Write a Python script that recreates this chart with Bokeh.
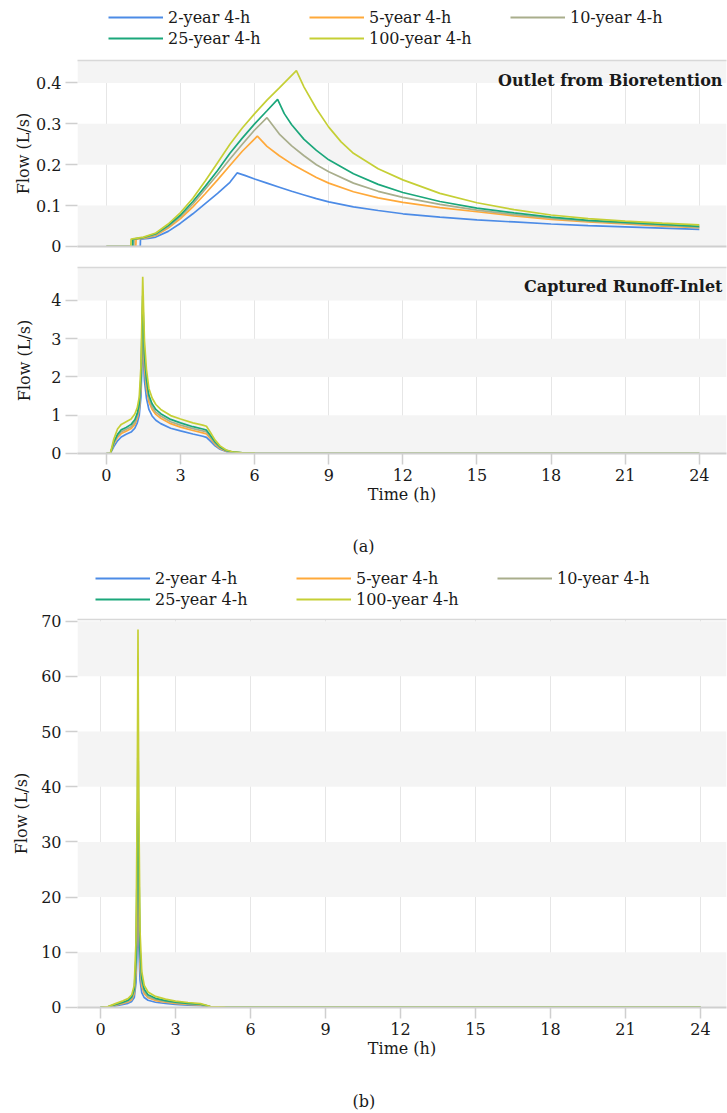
from bokeh.plotting import figure
from bokeh.models import Range1d, LinearAxis, Legend, LegendItem, Label, Title, FixedTicker
from bokeh.layouts import column
from bokeh.embed import file_html
from bokeh.resources import INLINE

# ---------------- data ----------------
series_names = ["2-year 4-h", "5-year 4-h", "10-year 4-h", "25-year 4-h", "100-year 4-h"]
series_colors = ["#4C8BE6", "#FFA93A", "#A9AE8C", "#1BA77B", "#C5CF35"]

x_ticks = [0, 3, 6, 9, 12, 15, 18, 21, 24]
y_ticks_outlet = [0, 0.1, 0.2, 0.3, 0.4]
y_ticks_inlet = [0, 1, 2, 3, 4]
y_ticks_total = [0, 10, 20, 30, 40, 50, 60, 70]

# (a) top: Outlet from Bioretention
t_out_2 = [0, 1.37, 1.38, 1.7, 2.0, 2.5, 3.0, 3.5, 4.0, 4.5, 5.0, 5.29, 5.6, 6.0, 6.5, 7.0, 7.5, 8.0, 8.5, 9.0, 10, 11, 12, 13.5, 15, 16.5, 18, 19.5, 21, 22.5, 24]
q_out_2 = [0, 0, 0.018, 0.02, 0.023, 0.037, 0.057, 0.08, 0.105, 0.13, 0.157, 0.18, 0.174, 0.165, 0.155, 0.145, 0.135, 0.126, 0.117, 0.109, 0.097, 0.088, 0.08, 0.072, 0.065, 0.06, 0.055, 0.051, 0.048, 0.045, 0.042]
t_out_5 = [0, 1.19, 1.2, 1.6, 2.0, 2.5, 3.0, 3.5, 4.0, 4.5, 5.0, 5.5, 6.11, 6.5, 7.0, 7.5, 8.0, 8.5, 9.0, 10, 11, 12, 13.5, 15, 16.5, 18, 19.5, 21, 22.5, 24]
q_out_5 = [0, 0, 0.018, 0.021, 0.027, 0.045, 0.068, 0.097, 0.129, 0.163, 0.198, 0.233, 0.27, 0.245, 0.222, 0.202, 0.185, 0.169, 0.155, 0.134, 0.119, 0.108, 0.095, 0.085, 0.075, 0.066, 0.06, 0.055, 0.05, 0.046]
t_out_10 = [0, 1.11, 1.12, 1.6, 2.0, 2.5, 3.0, 3.5, 4.0, 4.5, 5.0, 5.5, 6.0, 6.5, 7.0, 7.5, 8.0, 8.5, 9.0, 10, 11, 12, 13.5, 15, 16.5, 18, 19.5, 21, 22.5, 24]
q_out_10 = [0, 0, 0.018, 0.022, 0.029, 0.048, 0.073, 0.104, 0.14, 0.176, 0.214, 0.25, 0.285, 0.315, 0.275, 0.246, 0.222, 0.2, 0.183, 0.155, 0.135, 0.12, 0.103, 0.089, 0.078, 0.069, 0.062, 0.057, 0.052, 0.047]
t_out_25 = [0, 1.06, 1.07, 1.5, 2.0, 2.5, 3.0, 3.5, 4.0, 4.5, 5.0, 5.5, 6.0, 6.5, 6.93, 7.2, 7.5, 8.0, 8.5, 9.0, 10, 11, 12, 13.5, 15, 16.5, 18, 19.5, 21, 22.5, 24]
q_out_25 = [0, 0, 0.018, 0.022, 0.031, 0.051, 0.077, 0.11, 0.147, 0.186, 0.228, 0.265, 0.3, 0.332, 0.36, 0.325, 0.298, 0.262, 0.235, 0.212, 0.178, 0.152, 0.132, 0.11, 0.094, 0.082, 0.072, 0.064, 0.059, 0.054, 0.049]
t_out_100 = [0, 0.99, 1.0, 1.5, 2.0, 2.5, 3.0, 3.5, 4.0, 4.5, 5.0, 5.5, 6.0, 6.5, 7.0, 7.69, 8.0, 8.5, 9.0, 9.5, 10, 11, 12, 13.5, 15, 16.5, 18, 19.5, 21, 22.5, 24]
q_out_100 = [0, 0, 0.018, 0.023, 0.033, 0.055, 0.083, 0.118, 0.16, 0.205, 0.25, 0.29, 0.325, 0.358, 0.388, 0.43, 0.39, 0.337, 0.292, 0.256, 0.228, 0.19, 0.163, 0.13, 0.107, 0.09, 0.077, 0.068, 0.062, 0.057, 0.053]

# (a) bottom: Captured Runoff-Inlet
t_in = [0, 0.16, 0.3, 0.45, 0.6, 0.8, 1.0, 1.15, 1.25, 1.33, 1.4, 1.47, 1.54, 1.62, 1.72, 1.85, 2.0, 2.2, 2.6, 3.0, 3.5, 3.9, 4.05, 4.2, 4.4, 4.6, 4.85, 5.1, 5.5, 6.0, 7.0, 24]
q_in_2 = [0, 0, 0.18, 0.33, 0.43, 0.5, 0.56, 0.66, 0.8, 1.0, 1.5, 2.95, 1.9, 1.45, 1.15, 0.98, 0.87, 0.78, 0.66, 0.59, 0.51, 0.45, 0.42, 0.33, 0.2, 0.11, 0.05, 0.025, 0.01, 0.004, 0, 0]
q_in_5 = [0, 0, 0.25, 0.42, 0.52, 0.58, 0.65, 0.76, 0.92, 1.15, 1.75, 3.52, 2.25, 1.7, 1.35, 1.15, 1.02, 0.92, 0.78, 0.69, 0.6, 0.54, 0.51, 0.4, 0.24, 0.13, 0.06, 0.03, 0.012, 0.005, 0, 0]
q_in_10 = [0, 0, 0.28, 0.46, 0.57, 0.63, 0.7, 0.82, 0.98, 1.22, 1.85, 3.85, 2.45, 1.85, 1.45, 1.22, 1.08, 0.98, 0.83, 0.74, 0.65, 0.59, 0.56, 0.44, 0.27, 0.15, 0.07, 0.035, 0.014, 0.006, 0, 0]
q_in_25 = [0, 0, 0.3, 0.5, 0.62, 0.68, 0.76, 0.88, 1.05, 1.3, 2.0, 4.12, 2.6, 1.95, 1.52, 1.3, 1.15, 1.04, 0.89, 0.8, 0.7, 0.64, 0.61, 0.48, 0.3, 0.17, 0.08, 0.04, 0.016, 0.007, 0, 0]
q_in_100 = [0, 0, 0.38, 0.64, 0.76, 0.83, 0.9, 1.03, 1.2, 1.48, 2.3, 4.62, 2.95, 2.2, 1.7, 1.45, 1.28, 1.15, 0.99, 0.9, 0.8, 0.74, 0.71, 0.56, 0.35, 0.2, 0.09, 0.045, 0.018, 0.008, 0, 0]

# (b) total flow
t_b = [0, 0.3, 0.6, 0.9, 1.1, 1.25, 1.35, 1.42, 1.47, 1.5, 1.53, 1.58, 1.65, 1.75, 1.9, 2.2, 2.6, 3.0, 3.5, 4.0, 4.2, 4.4, 5.0, 6.0, 6.8, 24]
q_b_2 = [0, 0.05, 0.3, 0.55, 0.75, 1.1, 1.8, 4.5, 11.5, 20.5, 11.5, 5.0, 2.7, 1.8, 1.3, 0.95, 0.72, 0.56, 0.43, 0.34, 0.22, 0.07, 0.02, 0.007, 0.003, 0]
q_b_5 = [0, 0.08, 0.42, 0.72, 1.0, 1.45, 2.5, 6.5, 18.5, 33.5, 18.5, 7.5, 3.9, 2.5, 1.75, 1.25, 0.95, 0.74, 0.57, 0.45, 0.3, 0.1, 0.03, 0.01, 0.005, 0]
q_b_10 = [0, 0.1, 0.5, 0.85, 1.15, 1.7, 2.9, 7.8, 23, 42, 23, 9, 4.6, 2.9, 2.0, 1.45, 1.1, 0.85, 0.66, 0.52, 0.34, 0.11, 0.035, 0.012, 0.006, 0]
q_b_25 = [0, 0.12, 0.55, 0.95, 1.3, 1.9, 3.3, 9, 28, 50.5, 28, 10.5, 5.2, 3.3, 2.3, 1.65, 1.25, 0.95, 0.75, 0.58, 0.38, 0.12, 0.04, 0.015, 0.008, 0]
q_b_100 = [0, 0.15, 0.7, 1.2, 1.6, 2.3, 4.0, 12, 38, 68.5, 38, 14, 6.5, 4.0, 2.8, 2.0, 1.5, 1.15, 0.9, 0.7, 0.45, 0.15, 0.05, 0.02, 0.01, 0]

# ---------------- styling ----------------
FONT = "DejaVu Serif"
TXT = "#1a1a1a"
BAND = "#f4f4f4"
AXC = "#cfcfcf"
EPS = 1e-4
W = 727
FRAME_LEFT = 77
CAPTION_OFFSET = 275   # from the frame's left edge, so the caption sits at the page centre


def make_fig(height, x_rng, y_top, yticks, top, bottom, show_x):
    y0 = -EPS * y_top
    p = figure(width=W, height=height, x_range=Range1d(*x_rng), y_range=Range1d(y0, y_top),
               output_backend="svg", toolbar_location=None,
               min_border_left=FRAME_LEFT, min_border_right=1, min_border_top=top, min_border_bottom=bottom)
    p.outline_line_color = None
    p.background_fill_color = "white"
    p.border_fill_color = "white"
    xa = p.xaxis[0]
    ya = p.yaxis[0]
    # grid: shaded bands 0-1st tick, 2nd-3rd, ..., last tick-top
    p.ygrid.grid_line_color = None
    p.ygrid.ticker = FixedTicker(ticks=[y0] + yticks + [y_top])
    p.ygrid.band_fill_color = BAND
    p.ygrid.band_fill_alpha = 1.0
    p.xgrid.ticker = FixedTicker(ticks=x_ticks)
    p.xgrid.grid_line_color = "#e6e6e6"
    p.xgrid.grid_line_width = 1
    # y axis
    ya.ticker = FixedTicker(ticks=yticks)
    ya.axis_line_color = None
    ya.major_tick_out = 12
    ya.major_tick_in = 0
    ya.minor_tick_out = 0
    ya.minor_tick_in = 0
    ya.major_tick_line_color = AXC
    ya.major_tick_line_width = 1.5
    ya.major_label_text_font = FONT
    ya.major_label_text_font_size = "16px"
    ya.major_label_text_color = TXT
    ya.major_label_standoff = 4
    ya.axis_label = "Flow (L/s)"
    ya.axis_label_text_font = FONT
    ya.axis_label_text_font_size = "16px"
    ya.axis_label_text_font_style = "normal"
    ya.axis_label_text_color = TXT
    ya.axis_label_standoff = 3
    # x axis
    xa.axis_line_color = AXC
    xa.axis_line_width = 2
    xa.minor_tick_out = 0
    xa.minor_tick_in = 0
    xa.major_tick_in = 0
    if show_x:
        xa.ticker = FixedTicker(ticks=x_ticks)
        xa.major_tick_out = 11
        xa.major_tick_line_color = AXC
        xa.major_tick_line_width = 1.5
        xa.major_label_text_font = FONT
        xa.major_label_text_font_size = "16px"
        xa.major_label_text_color = TXT
        xa.major_label_standoff = 4
        xa.axis_label = "Time (h)"
        xa.axis_label_text_font = FONT
        xa.axis_label_text_font_size = "16px"
        xa.axis_label_text_font_style = "normal"
        xa.axis_label_text_color = TXT
        xa.axis_label_standoff = 1
    else:
        xa.ticker = FixedTicker(ticks=[])
        xa.major_tick_out = 0
        xa.major_label_standoff = 0
    # top line of the frame
    top_ax = LinearAxis(ticker=FixedTicker(ticks=[]), axis_line_color="#d8d8d8", axis_line_width=1.5,
                        major_tick_out=0, major_tick_in=0, minor_tick_out=0, minor_tick_in=0,
                        major_label_standoff=0)
    p.add_layout(top_ax, "above")
    return p, xa, ya


def add_lines(p, ts, qs):
    return [p.line(t, q, line_color=c, line_width=1.7) for t, q, c in zip(ts, qs, series_colors)]


def blank_fig(height, top):
    lp = figure(width=W, height=height, x_range=Range1d(0, 1), y_range=Range1d(0, 1),
                output_backend="svg", toolbar_location=None,
                min_border_left=0, min_border_right=0, min_border_top=top, min_border_bottom=0)
    lp.axis.visible = False
    lp.grid.visible = False
    lp.outline_line_color = None
    lp.background_fill_color = "white"
    lp.border_fill_color = "white"
    return lp


def add_caption(lp, text):
    lp.add_layout(Title(text=text, align="left", offset=CAPTION_OFFSET, standoff=0,
                        text_font=FONT, text_font_size="16px", text_font_style="normal",
                        text_color=TXT), "above")


def add_legends(lp, x0, y_row1, y_row2):
    # single-point lines: nothing visible in the plot, only their legend samples
    rs = [lp.line([0], [0], line_color=c, line_width=2.2) for c in series_colors]
    items = [LegendItem(label=n, renderers=[r]) for n, r in zip(series_names, rs)]
    for grp, yy in ((items[:3], y_row1), (items[3:], y_row2)):
        lg = Legend(items=grp, orientation="horizontal", location=(x0, yy),
                    margin=0, padding=0, spacing=1, glyph_width=55, glyph_height=20,
                    label_height=20, label_width=140, label_standoff=5,
                    label_text_font=FONT, label_text_font_size="16px", label_text_color=TXT,
                    background_fill_alpha=0, border_line_color=None)
        lp.add_layout(lg, "center")


def add_panel_title(p, text, yoff):
    p.add_layout(Label(x=p.x_range.end, y=p.y_range.end, text=text, text_align="right",
                       text_baseline="top", x_offset=-4, y_offset=yoff, text_font=FONT,
                       text_font_style="bold", text_font_size="16px", text_color=TXT))


XR_A = (-1.17, 25.1)
XR_B = (-0.92, 25.04)

# legend (a)
leg_a = blank_fig(56, 0)
add_legends(leg_a, 31, 29, 8)

# figure a1
p1, xa1, ya1 = make_fig(200, XR_A, 0.455, y_ticks_outlet, 4, 10, False)
ya1.major_label_overrides = {0: "0"}
ya1.axis_label_standoff = 0
add_lines(p1, [t_out_2, t_out_5, t_out_10, t_out_25, t_out_100],
          [q_out_2, q_out_5, q_out_10, q_out_25, q_out_100])
add_panel_title(p1, "Outlet from Bioretention", -10)

# figure a2
p2, xa2, ya2 = make_fig(253, XR_A, 4.86, y_ticks_inlet, 11, 56, True)
ya2.axis_label_standoff = 14
add_lines(p2, [t_in] * 5, [q_in_2, q_in_5, q_in_10, q_in_25, q_in_100])
add_panel_title(p2, "Captured Runoff-Inlet", -9)

# caption (a) + legend (b)
leg_b = blank_fig(100, 46)
add_caption(leg_b, "(a)")
add_legends(leg_b, 18, 21, 0)

# figure b
p3, xa3, ya3 = make_fig(451, XR_B, 70.3, y_ticks_total, 10, 53, True)
ya3.axis_label_standoff = 7
add_lines(p3, [t_b] * 5, [q_b_2, q_b_5, q_b_10, q_b_25, q_b_100])

# caption (b)
cap_b = blank_fig(53, 50)
add_caption(cap_b, "(b)")

layout = column(leg_a, p1, p2, leg_b, p3, cap_b, spacing=0)
open("out.html", "w").write(file_html(layout, INLINE))
